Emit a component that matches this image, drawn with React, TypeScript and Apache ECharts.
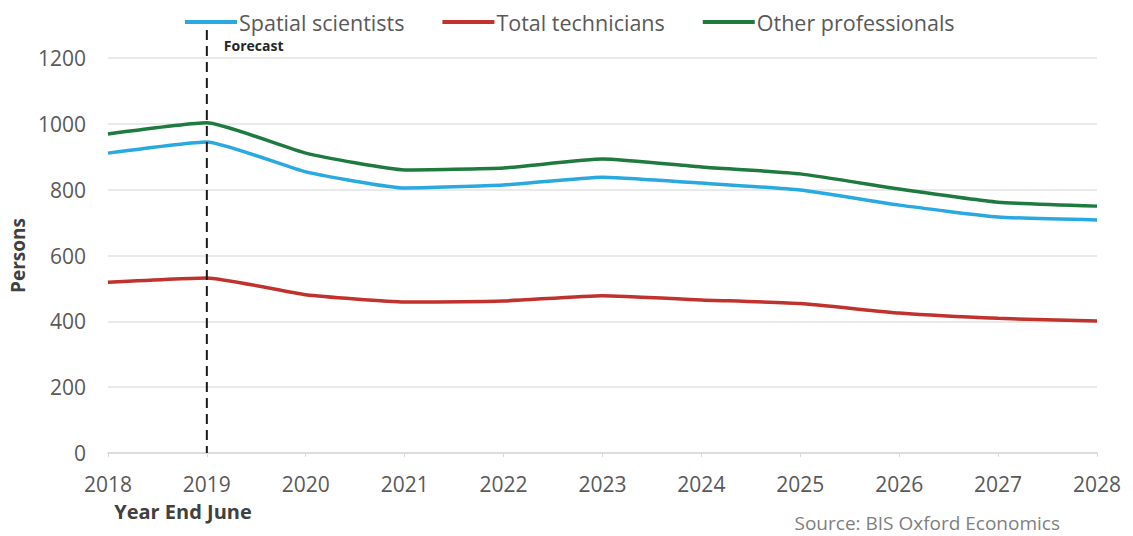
import React, { useEffect, useRef } from "react";
import * as echarts from "echarts";

const years = ["2018", "2019", "2020", "2021", "2022", "2023", "2024", "2025", "2026", "2027", "2028"];
const spatialScientists = [911, 945, 854, 805, 814, 838, 820, 799, 753, 717, 708];
const totalTechnicians = [519, 532, 481, 459, 462, 478, 465, 454, 425, 409, 401];
const otherProfessionals = [969, 1003, 911, 860, 866, 893, 869, 848, 802, 762, 750];
const forecastYear = "2019";

const FONT = "Open Sans";

export default function App() {
  const ref = useRef<HTMLDivElement>(null);
  useEffect(() => {
    if (!ref.current) return;
    const chart = echarts.init(ref.current, undefined, { renderer: "svg" });
    const mk = (name: string, data: number[], color: string) => ({
      name,
      type: "line",
      data,
      smooth: 0.15,
      symbol: "none",
      lineStyle: { color, width: 3.5 },
      itemStyle: { color },
    });
    chart.setOption({
      animation: false,
      backgroundColor: "#ffffff",
      textStyle: { fontFamily: FONT },
      legend: {
        top: 6,
        left: 183,
        padding: [5, 2],
        icon: "rect",
        itemWidth: 52,
        itemHeight: 4,
        itemGap: 38,
        textStyle: { fontSize: 21.5, color: "#595959", fontFamily: FONT, padding: [0, 0, 0, -3] },
        data: ["Spatial scientists", "Total technicians", "Other professionals"],
      },
      grid: { left: 103, right: 36, top: 58, bottom: 83 },
      xAxis: {
        type: "category",
        data: years,
        boundaryGap: false,
        axisLine: { lineStyle: { color: "#d9d9d9", width: 1.5 } },
        axisTick: { show: true, length: 4, lineStyle: { color: "#d9d9d9" } },
        axisLabel: { fontSize: 21, color: "#595959", margin: 20, fontFamily: FONT },
      },
      yAxis: {
        type: "value",
        min: 0,
        max: 1200,
        interval: 200,
        name: "Persons",
        nameLocation: "middle",
        nameRotate: 90,
        nameGap: 75,
        nameTextStyle: { fontSize: 19, fontWeight: "bold", color: "#404040", fontFamily: FONT },
        axisLine: { show: false },
        axisTick: { show: false },
        splitLine: { lineStyle: { color: "#e3e3e3", width: 1.5 } },
        axisLabel: {
          fontSize: 21,
          color: "#595959",
          margin: 22,
          fontFamily: FONT,
          formatter: (v: number) => String(v),
        },
      },
      series: [
        mk("Spatial scientists", spatialScientists, "#2aa9e0"),
        mk("Total technicians", totalTechnicians, "#c0322d"),
        mk("Other professionals", otherProfessionals, "#1f7a3f"),
      ],
    });
    const fx = chart.convertToPixel({ xAxisIndex: 0 }, forecastYear) as number;
    const y0 = chart.convertToPixel({ yAxisIndex: 0 }, 0) as number;
    chart.setOption({
      graphic: [
        {
          type: "line",
          shape: { x1: fx, y1: 30, x2: fx, y2: y0 },
          style: { stroke: "#1a1a1a", lineWidth: 2, lineDash: [10, 6] },
          z: 10,
        },
        {
          type: "text",
          x: fx + 17,
          y: 45,
          style: { text: "Forecast", fontSize: 14, fontWeight: "bold", fill: "#262626", fontFamily: FONT, verticalAlign: "middle" },
        },
        {
          type: "text",
          x: 183,
          y: 511,
          style: { text: "Year End June", fontSize: 20, fontWeight: "bold", fill: "#404040", fontFamily: FONT, align: "center", verticalAlign: "middle" },
        },
        {
          type: "text",
          x: 1060,
          y: 523,
          style: { text: "Source: BIS Oxford Economics", fontSize: 19, fill: "#7f7f7f", fontFamily: FONT, align: "right", verticalAlign: "middle" },
        },
      ],
    });
    return () => chart.dispose();
  }, []);
  return <div ref={ref} style={{ width: 1133, height: 536, position: "absolute", left: 0, top: 0 }} />;
}
